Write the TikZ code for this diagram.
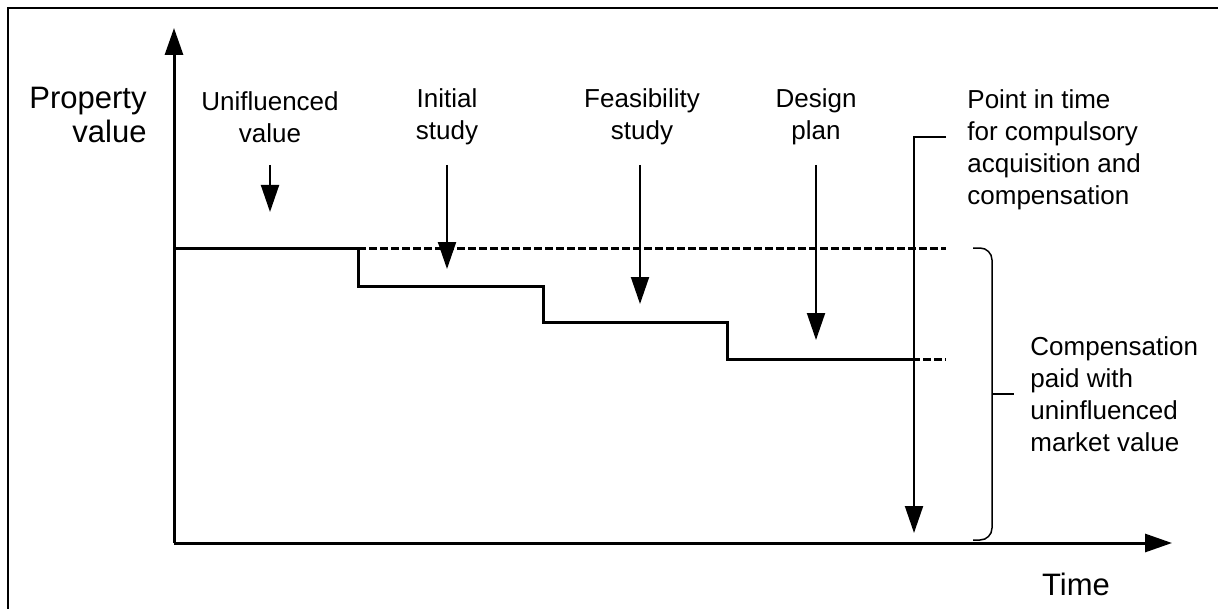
\documentclass[tikz,border=0pt]{standalone}
\usepackage{fontspec}
\setmainfont{Liberation Sans}
\usetikzlibrary{arrows.meta,calc}

\begin{document}
\begin{tikzpicture}[x=0.5pt, y=-0.5pt, >={Triangle[length=13.5pt,width=9pt]},
	every node/.style={inner sep=0pt, font=\fontsize{13pt}{16pt}\selectfont},
	axislabel/.style={font=\fontsize{15.5pt}{17pt}\selectfont},
	axisline/.style={line width=1.5pt},
	stepline/.style={line width=1.5pt},
	refline/.style={line width=1.5pt, dash pattern=on 4pt off 1.5pt},
	eventarrow/.style={->, line width=1pt},
	leader/.style={line width=0.75pt}]
	% 0. 画布与外框
	\useasboundingbox (0,0) rectangle (1218,609);
	\draw[line width=1pt] (8,609) -- (8,8) -- (1218,8);
	
	% 1. 坐标轴
	\coordinate (O) at (174,543);
	\coordinate (ytop) at (174,28);
	\coordinate (xend) at (1172,543);
	\draw[axisline,->] (O) -- (ytop);
	\draw[axisline,->] (O) -- (xend);
	\node[axislabel, align=right, anchor=east] (propval) at (147,115) {Property\\value};
	\node[axislabel] (timelbl) at (1076,584) {Time};
	
	% 2. 价值阶梯线与参考虚线
	\draw[refline] (358,248) -- (946,248);
	\draw[refline] (912,359) -- (946,359);
	\draw[stepline] (O |- 0,248) -- (358,248) -- (358,286) -- (543,286)
		-- (543,322) -- (727,322) -- (727,359) -- (912,359);
	
	% 3. 各阶段事件与箭头
	\node[align=center] (unval) at (270,117) {Unifluenced\\value};
	\node[align=center] (initstudy) at (447,117) {Initial\\study};
	\node[align=center] (feasstudy) at (642,117) {Feasibility\\study};
	\node[align=center] (designplan) at (816,117) {Design\\plan};
	\coordinate (unvaltip) at (270,212);
	\coordinate (initstudytip) at (447,269);
	\coordinate (feasstudytip) at (640,304);
	\coordinate (designplantip) at (816,340);
	\draw[eventarrow] (unvaltip |- 0,165) -- (unvaltip);
	\draw[eventarrow] (initstudytip |- 0,165) -- (initstudytip);
	\draw[eventarrow] (feasstudytip |- 0,165) -- (feasstudytip);
	\draw[eventarrow] (designplantip |- 0,165) -- (designplantip);
	
	% 4. 征收时点
	\node[align=left, anchor=west] (pointtime) at (967,150)
		{Point in time\\for compulsory\\acquisition and\\compensation};
	\coordinate (leadstart) at (946,137);
	\coordinate (pointtip) at (914,533);
	\draw[eventarrow] (leadstart) -- (914,137) -- (pointtip);
	
	% 5. 补偿括号
	\coordinate (bracetick) at (1014,394);
	\draw[leader, rounded corners=6pt] (973,248) -- (992,248) -- (992,540) -- (973,540);
	\draw[leader] (992,394) -- (bracetick);
	\node[align=left, anchor=west] (compens) at ([xshift=8pt]bracetick)
		{Compensation\\paid with\\uninfluenced\\market value};
\end{tikzpicture}
\end{document}
